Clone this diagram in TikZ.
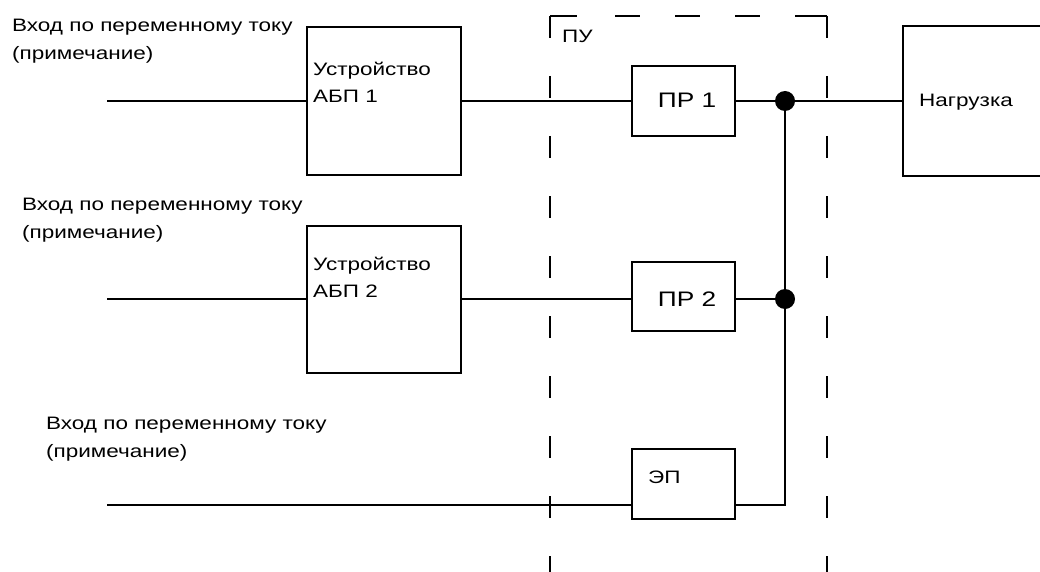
\documentclass[tikz,border=0pt]{standalone}
\usepackage{fontspec}
\setmainfont{Liberation Sans}[FakeStretch=1.25]
\begin{document}
\begin{tikzpicture}[x=1pt,y=-1pt,
  box/.style={draw, line width=2pt, inner sep=0pt, rectangle},
  wire/.style={line width=2pt},
  dot/.style={circle, fill=black, inner sep=0pt, minimum size=20pt},
  txt/.style={inner sep=0pt, align=left, font=\fontsize{18}{28}\selectfont},
  boxtxt/.style={inner sep=0pt, align=left, font=\fontsize{18}{27}\selectfont},
  bigtxt/.style={inner sep=0pt, font=\fontsize{21}{25}\selectfont},
  frame/.style={line width=2pt}]
\useasboundingbox[fill=white] (0,0) rectangle (1040,572);
\clip (0,0) rectangle (1040,572);

% dashed frame
\draw[frame, dash pattern=on 27pt off 38pt on 25pt off 35pt on 25pt off 35pt on 25pt off 35pt on 32pt off 10pt]
  (550,16) -- (827,16);
\draw[frame, dash pattern=on 22pt off 38pt] (550,16) -- (550,590);
\draw[frame, dash pattern=on 22pt off 38pt] (827,16) -- (827,590);
\node[txt, anchor=base west] (pu) at (562,43) {ПУ};

% boxes
\node[box, minimum width=154pt, minimum height=148pt] (ups1) at (384,101) {};
\node[box, minimum width=154pt, minimum height=147pt] (ups2) at (384,299) {};
\node[box, minimum width=103pt, minimum height=70pt] (pr1) at (683.5,101) {};
\node[box, minimum width=103pt, minimum height=69pt] (pr2) at (683.5,296) {};
\node[box, minimum width=103pt, minimum height=70pt] (ep) at (683.5,484) {};
\node[box, minimum width=142pt, minimum height=149pt] (load) at (974,101) {};

% box texts (base anchor = baseline of the last line)
\node[boxtxt, anchor=base west] (t1) at (313,103) {Устройство\\АБП 1};
\node[boxtxt, anchor=base west] (t2) at (313,297) {Устройство\\АБП 2};
\node[bigtxt, anchor=base] (tp1) at (687,108) {ПР 1};
\node[bigtxt, anchor=base] (tp2) at (687,306) {ПР 2};
\node[txt, anchor=base west] (tep) at (648,483) {ЭП};
\node[txt, anchor=base west] (tload) at (919,107) {Нагрузка};

% input labels
\node[txt, anchor=base west] (l1) at (12,60) {Вход по переменному току\\(примечание)};
\node[txt, anchor=base west] (l2) at (22,238) {Вход по переменному току\\(примечание)};
\node[txt, anchor=base west] (l3) at (46,457) {Вход по переменному току\\(примечание)};

% coordinates
\coordinate (in1) at (107,101);
\coordinate (in2) at (107,299);
\coordinate (in3) at (107,505);
\node[dot] (j1) at (785,101) {};
\node[dot] (j2) at (785,299) {};
\coordinate (j3) at (785,505);

% wires
\draw[wire] (in1) -- (ups1.west);
\draw[wire] (ups1.east) -- (pr1.west);
\draw[wire] (pr1.east) -- (j1.center) -- (load.west);
\draw[wire] (in2) -- (ups2.west);
\draw[wire] (ups2.east) -- (ups2.east -| pr2.west);
\draw[wire] (pr2.east |- j2) -- (j2.center);
\draw[wire] (in3) -- (in3 -| ep.west);
\draw[wire] (in3 -| ep.east) -- (j3) -- (j2.center) -- (j1.center);
\end{tikzpicture}
\end{document}
